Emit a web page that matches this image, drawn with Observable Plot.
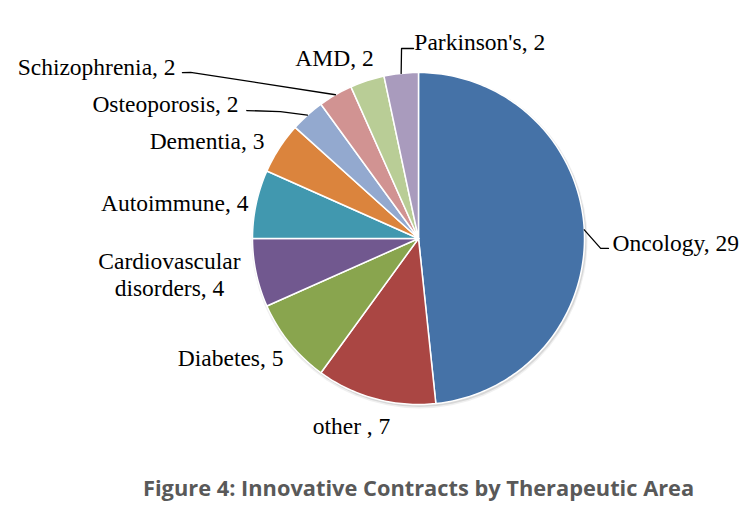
<!DOCTYPE html>
<html>
<head>
<meta charset="utf-8">
<script src="https://cdn.jsdelivr.net/npm/d3@7"></script>
<script src="https://cdn.jsdelivr.net/npm/@observablehq/plot@0.6"></script>
<style>
  body { margin: 0; background: #fff; }
  #chart svg { display: block; }
  #caption {
    font-family: "Open Sans", sans-serif;
    font-weight: 700;
    font-size: 21.8px;
    color: #595959;
    margin-left: 143px;
    margin-top: 5px;
    line-height: 26px;
    white-space: nowrap;
  }
</style>
</head>
<body>
<div id="chart"></div>
<div id="caption">Figure 4: Innovative Contracts by Therapeutic Area</div>
<script>
// ---- data ----
const categories = ["Oncology", "other", "Diabetes", "Cardiovascular disorders", "Autoimmune",
  "Dementia", "Osteoporosis", "Schizophrenia", "AMD", "Parkinson's"];
const values = [29, 7, 5, 4, 4, 3, 2, 2, 2, 2];
const labels = ["Oncology, 29", "other , 7", "Diabetes, 5", "Cardiovascular\ndisorders, 4", "Autoimmune, 4",
  "Dementia, 3", "Osteoporosis, 2", "Schizophrenia, 2", "AMD, 2", "Parkinson's, 2"];
const colors = ["#4572A7", "#AA4643", "#89A54E", "#71588F", "#4198AF",
  "#DB843D", "#93A9CF", "#D19392", "#B9CD96", "#A99BBD"];

// ---- layout (label placement in polar terms: angle clockwise from top, radius in pie radii) ----
const labelAngle = [91.2, 199.7, 228.6, 262, 282, 302.5, 306.9, 305.3, 335.1, 358.8];
const labelRadius = [1.169, 1.197, 1.084, 1.515, 1.047, 1.10, 1.355, 1.793, 1.202, 1.19];
const labelAnchor = ["start", "middle", "end", "middle", "end", "end", "end", "end", "middle", "start"];
// leader lines: bend and end points (angle, radius) for labels that have them
const leaders = {
  "Oncology": [[93.1, 1.099], [93.0, 1.146]],
  "Osteoporosis": [[312.6, 1.13], [306.7, 1.29]],
  "Schizophrenia": [[306.1, 1.699], [305.1, 1.738]],
  "Parkinson's": [[354.9, 1.149], [358.5, 1.145]]
};

const cx = 418, cy = 238, r = 166;
const rad = (deg) => deg * Math.PI / 180;
const polar = (deg, R) => ({x: R * Math.sin(rad(deg)), y: R * Math.cos(rad(deg))});

const total = d3.sum(values);
let cum = 0;
const slicePts = [];
const mids = [];
categories.forEach((name, i) => {
  const a0 = cum / total * 360;
  const a1 = (cum + values[i]) / total * 360;
  cum += values[i];
  mids.push((a0 + a1) / 2);
  slicePts.push({name, ...polar(0, 0)});
  const n = Math.max(2, Math.ceil(a1 - a0));
  for (let k = 0; k <= n; k++) slicePts.push({name, ...polar(a0 + (a1 - a0) * k / n, 1)});
  slicePts.push({name, ...polar(0, 0)});
});

const labelData = categories.map((name, i) => ({
  name, text: labels[i], anchor: labelAnchor[i], ...polar(labelAngle[i], labelRadius[i])
}));

const leaderPts = [];
categories.forEach((name, i) => {
  if (!leaders[name]) return;
  leaderPts.push({name, ...polar(mids[i], 1.0)});
  leaders[name].forEach(([a, R]) => leaderPts.push({name, ...polar(a, R)}));
});

const textOpts = {x: "x", y: "y", text: "text", fontFamily: "Liberation Serif", fontSize: 23.5,
  lineHeight: 1.15, fill: "#000"};

const chart = Plot.plot({
  width: 750,
  height: 470,
  x: {domain: [-1, 1], range: [cx - r, cx + r], axis: null},
  y: {domain: [-1, 1], range: [cy + r, cy - r], axis: null},
  color: {domain: categories, range: colors},
  marks: [
    Plot.dot([{x: 0, y: 0}], {x: "x", y: "y", r: r + 2, fill: "#000", fillOpacity: 0.06, dx: 1, dy: 2}),
    Plot.dot([{x: 0, y: 0}], {x: "x", y: "y", r: r + 1, fill: "#000", fillOpacity: 0.10, dx: 1, dy: 1.5}),
    Plot.line(slicePts, {x: "x", y: "y", z: "name", fill: "name", stroke: "white", strokeWidth: 1.5,
      strokeLinejoin: "round", curve: "linear"}),
    Plot.line(leaderPts, {x: "x", y: "y", z: "name", stroke: "#000", strokeWidth: 1.3}),
    Plot.text(labelData.filter(d => d.anchor === "start"), {...textOpts, textAnchor: "start"}),
    Plot.text(labelData.filter(d => d.anchor === "middle"), {...textOpts, textAnchor: "middle"}),
    Plot.text(labelData.filter(d => d.anchor === "end"), {...textOpts, textAnchor: "end"})
  ]
});
document.getElementById("chart").appendChild(chart);
</script>
</body>
</html>
